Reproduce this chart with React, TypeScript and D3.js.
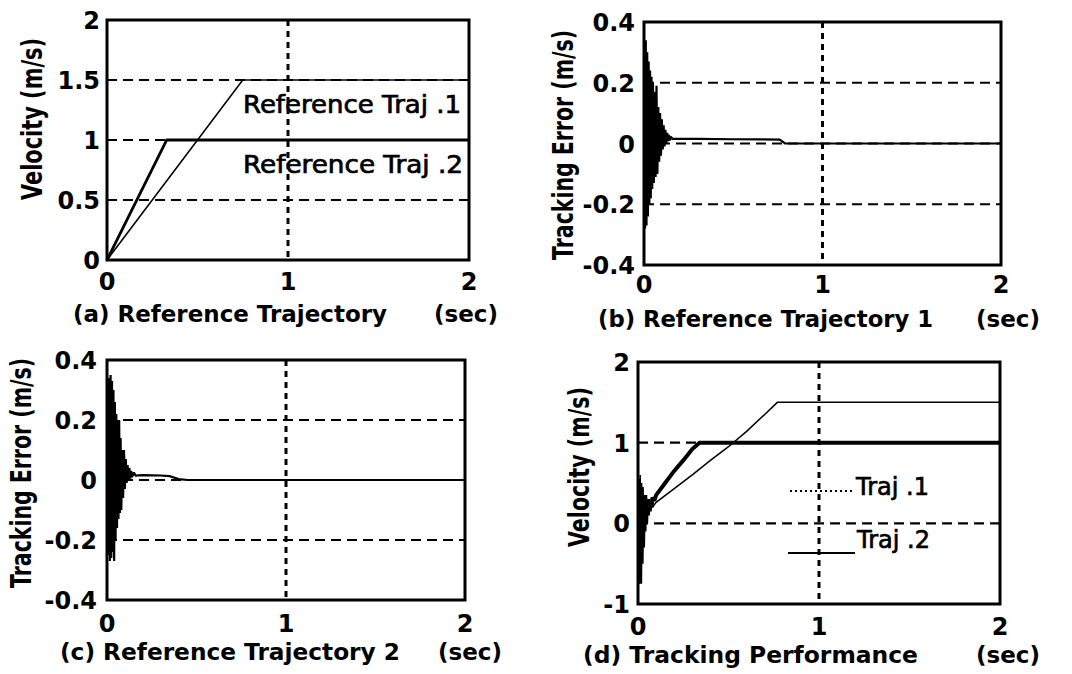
import React, { useLayoutEffect, useRef, useState } from 'react';
import * as d3 from 'd3';

// ---------- data ----------
const timeTicks = [0, 1, 2];
const velTicksA = [0, 0.5, 1, 1.5, 2];
const errTicks = [-0.4, -0.2, 0, 0.2, 0.4];
const velTicksD = [-1, 0, 1, 2];

// (a) reference trajectories
const refTraj1: [number, number][] = [[0, 0], [0.75, 1.5], [2, 1.5]];
const refTraj2: [number, number][] = [[0, 0], [0.33, 1], [2, 1]];

// (b) tracking error, reference trajectory 1
const errTraj1: [number, number][] = [
  [0, 0], [0.003, 0.33], [0.006, -0.28], [0.01, 0.34], [0.014, -0.27], [0.018, 0.3],
  [0.022, -0.24], [0.026, 0.27], [0.03, -0.2], [0.034, 0.24], [0.038, -0.18], [0.042, 0.22],
  [0.046, -0.15], [0.05, 0.2], [0.055, -0.13], [0.06, 0.17], [0.065, -0.11], [0.07, 0.19],
  [0.075, -0.1], [0.08, 0.12], [0.085, -0.06], [0.09, 0.1], [0.095, -0.04], [0.1, 0.08],
  [0.105, -0.02], [0.11, 0.06], [0.115, -0.01], [0.12, 0.045], [0.125, 0.0], [0.13, 0.035],
  [0.135, 0.008], [0.14, 0.028], [0.145, 0.01], [0.15, 0.022], [0.16, 0.015], [0.3, 0.015],
  [0.5, 0.014], [0.76, 0.013], [0.79, 0.0], [2, 0],
];

// (c) tracking error, reference trajectory 2
const errTraj2: [number, number][] = [
  [0, 0], [0.004, 0.3], [0.008, -0.25], [0.012, 0.34], [0.016, -0.27], [0.02, 0.35],
  [0.024, -0.26], [0.028, 0.33], [0.032, -0.24], [0.036, 0.3], [0.04, -0.27], [0.044, 0.26],
  [0.048, -0.2], [0.052, 0.22], [0.056, -0.16], [0.06, 0.2], [0.064, -0.13], [0.068, 0.2],
  [0.072, -0.11], [0.076, 0.14], [0.08, -0.1], [0.085, 0.1], [0.09, -0.06], [0.095, 0.1],
  [0.1, -0.03], [0.105, 0.07], [0.11, -0.01], [0.115, 0.05], [0.12, 0.0], [0.125, 0.04],
  [0.13, 0.005], [0.135, 0.03], [0.14, 0.01], [0.15, 0.025], [0.16, 0.015], [0.2, 0.016],
  [0.3, 0.015], [0.35, 0.013], [0.4, 0.003], [0.45, 0], [2, 0],
];

// (d) tracking performance, actual velocities
const actTraj1: [number, number][] = [
  [0, 0], [0.004, 0.55], [0.008, -0.3], [0.012, 0.6], [0.016, -0.2], [0.02, 0.5],
  [0.024, -0.05], [0.028, 0.45], [0.032, 0.05], [0.036, 0.35], [0.04, 0.1], [0.045, 0.32],
  [0.05, 0.12], [0.055, 0.3], [0.06, 0.15], [0.07, 0.28], [0.08, 0.2], [0.1, 0.26],
  [0.2, 0.43], [0.3, 0.6], [0.4, 0.78], [0.5, 0.95], [0.6, 1.14], [0.7, 1.35],
  [0.77, 1.5], [2, 1.5],
];
const actTraj2: [number, number][] = [
  [0, 0], [0.004, -0.6], [0.008, 0.4], [0.012, -0.75], [0.016, 0.3], [0.02, -0.5],
  [0.024, 0.35], [0.028, -0.3], [0.032, 0.3], [0.036, -0.1], [0.04, 0.35], [0.045, 0.0],
  [0.05, 0.3], [0.055, 0.1], [0.06, 0.3], [0.065, 0.15], [0.07, 0.3], [0.075, 0.2],
  [0.08, 0.32], [0.09, 0.28], [0.1, 0.35], [0.15, 0.5], [0.2, 0.65], [0.25, 0.78],
  [0.3, 0.92], [0.34, 1.0], [2, 1.0],
];

const FONT = 'DejaVu Sans';

// rotated label squeezed to a target length by a horizontal scale
function FitLabel({ x, y, len, text }: { x: number; y: number; len: number; text: string }) {
  const ref = useRef<SVGTextElement>(null);
  const [sx, setSx] = useState(0.72);
  useLayoutEffect(() => {
    if (ref.current) {
      const w = ref.current.getComputedTextLength();
      if (w > 0) setSx(len / w);
    }
  }, [len, text]);
  return (
    <text ref={ref} transform={`translate(${x},${y}) rotate(-90) scale(${sx},1)`} textAnchor="middle"
      fontFamily={FONT} fontWeight="bold" fontSize={28}>{text}</text>
  );
}

type Series = { data: [number, number][]; width: number; dash?: string };

type PanelProps = {
  id: string;
  box: { l: number; r: number; t: number; b: number };
  yDomain: [number, number];
  yTicks: number[];
  series: Series[];
  yTickRight: number;
  xTickBase: number;
  yLabel: string;
  yLabelX: number;
  yLabelY: number;
  yLabelLen: number;
  caption: string;
  capX: number;
  capBase: number;
  capLen: number;
  secRight: number;
};

function Panel(p: PanelProps) {
  const x = d3.scaleLinear().domain([0, 2]).range([p.box.l, p.box.r]);
  const y = d3.scaleLinear().domain(p.yDomain).range([p.box.b, p.box.t]);
  const line = d3.line<[number, number]>().x((d) => x(d[0])).y((d) => y(d[1]));
  const gridY = p.yTicks.filter((v) => v > p.yDomain[0] && v < p.yDomain[1]);
  const gridX = timeTicks.filter((v) => v > 0 && v < 2);
  return (
    <g>
      <defs>
        <clipPath id={`clip-${p.id}`}>
          <rect x={p.box.l} y={p.box.t} width={p.box.r - p.box.l} height={p.box.b - p.box.t} />
        </clipPath>
      </defs>
      {gridY.map((v) => (
        <line key={`gy${v}`} x1={p.box.l} x2={p.box.r} y1={y(v)} y2={y(v)}
          stroke="#000" strokeWidth={2.2} strokeDasharray="10,6" />
      ))}
      {gridX.map((v) => (
        <line key={`gx${v}`} x1={x(v)} x2={x(v)} y1={p.box.t} y2={p.box.b}
          stroke="#000" strokeWidth={3} strokeDasharray="6,5" />
      ))}
      <g clipPath={`url(#clip-${p.id})`}>
        {p.series.map((s, i) => (
          <path key={i} d={line(s.data) || ''} fill="none" stroke="#000"
            strokeWidth={s.width} strokeDasharray={s.dash} strokeLinejoin="miter" strokeMiterlimit={2} />
        ))}
      </g>
      <rect x={p.box.l} y={p.box.t} width={p.box.r - p.box.l} height={p.box.b - p.box.t}
        fill="none" stroke="#000" strokeWidth={3} />
      {p.yTicks.map((v) => (
        <text key={`yt${v}`} x={p.yTickRight} y={y(v) + 9} textAnchor="end"
          fontFamily={FONT} fontWeight="bold" fontSize={24}>{String(v)}</text>
      ))}
      {timeTicks.map((v) => (
        <text key={`xt${v}`} x={x(v)} y={p.xTickBase} textAnchor="middle"
          fontFamily={FONT} fontWeight="bold" fontSize={24}>{String(v)}</text>
      ))}
      <FitLabel x={p.yLabelX} y={p.yLabelY} len={p.yLabelLen} text={p.yLabel} />
      <text x={p.capX} y={p.capBase} fontFamily={FONT} fontWeight="bold" fontSize={23}
        textLength={p.capLen} lengthAdjust="spacingAndGlyphs">{p.caption}</text>
      <text x={p.secRight} y={p.capBase} textAnchor="end" fontFamily={FONT} fontWeight="bold"
        fontSize={23}>(sec)</text>
    </g>
  );
}

export default function App() {
  return (
    <svg width={1072} height={674} style={{ position: 'absolute', left: 0, top: 0, background: '#fff' }}>
      <rect x={0} y={0} width={1072} height={674} fill="#fff" />
      <Panel id="a" box={{ l: 107, r: 469, t: 20, b: 260 }} yDomain={[0, 2]} yTicks={velTicksA}
        series={[{ data: refTraj1, width: 1.6 }, { data: refTraj2, width: 2.8 }]}
        yTickRight={100} xTickBase={290}
        yLabel={'Velocity  (m/s)'} yLabelX={42} yLabelY={119} yLabelLen={162}
        caption="(a) Reference Trajectory" capX={73} capBase={322} capLen={314} secRight={498} />
      <Panel id="b" box={{ l: 644, r: 1001, t: 22, b: 265 }} yDomain={[-0.4, 0.4]} yTicks={errTicks}
        series={[{ data: errTraj1, width: 2.2 }]}
        yTickRight={635} xTickBase={293}
        yLabel={'Tracking Error  (m/s)'} yLabelX={573} yLabelY={145} yLabelLen={230}
        caption="(b) Reference Trajectory 1" capX={598} capBase={327} capLen={335} secRight={1040} />
      <Panel id="c" box={{ l: 107, r: 465, t: 360, b: 600 }} yDomain={[-0.4, 0.4]} yTicks={errTicks}
        series={[{ data: errTraj2, width: 2.2 }]}
        yTickRight={97} xTickBase={632}
        yLabel={'Tracking Error  (m/s)'} yLabelX={31} yLabelY={473} yLabelLen={230}
        caption="(c) Reference Trajectory 2" capX={60} capBase={660} capLen={340} secRight={502} />
      <Panel id="d" box={{ l: 638, r: 1000, t: 362, b: 604 }} yDomain={[-1, 2]} yTicks={velTicksD}
        series={[{ data: actTraj1, width: 1.5 }, { data: actTraj2, width: 4 }]}
        yTickRight={630} xTickBase={635}
        yLabel={'Velocity  (m/s)'} yLabelX={589} yLabelY={467} yLabelLen={160}
        caption="(d) Tracking Performance" capX={583} capBase={663} capLen={335} secRight={1040} />
      {/* annotations (a) */}
      <text x={243} y={113} fontFamily={FONT} fontSize={24} stroke="#000" strokeWidth={0.7}
        textLength={218} lengthAdjust="spacingAndGlyphs">Reference Traj .1</text>
      <text x={243} y={173} fontFamily={FONT} fontSize={24} stroke="#000" strokeWidth={0.7}
        textLength={220} lengthAdjust="spacingAndGlyphs">Reference Traj .2</text>
      {/* legend (d) */}
      <line x1={790} x2={852} y1={491} y2={491} stroke="#000" strokeWidth={1.8} strokeDasharray="2,3" />
      <text x={856} y={495} fontFamily={FONT} fontSize={24} stroke="#000" strokeWidth={0.7}>Traj .1</text>
      <line x1={788} x2={855} y1={553} y2={553} stroke="#000" strokeWidth={1.8} />
      <text x={857} y={548} fontFamily={FONT} fontSize={24} stroke="#000" strokeWidth={0.7}>Traj .2</text>
    </svg>
  );
}
